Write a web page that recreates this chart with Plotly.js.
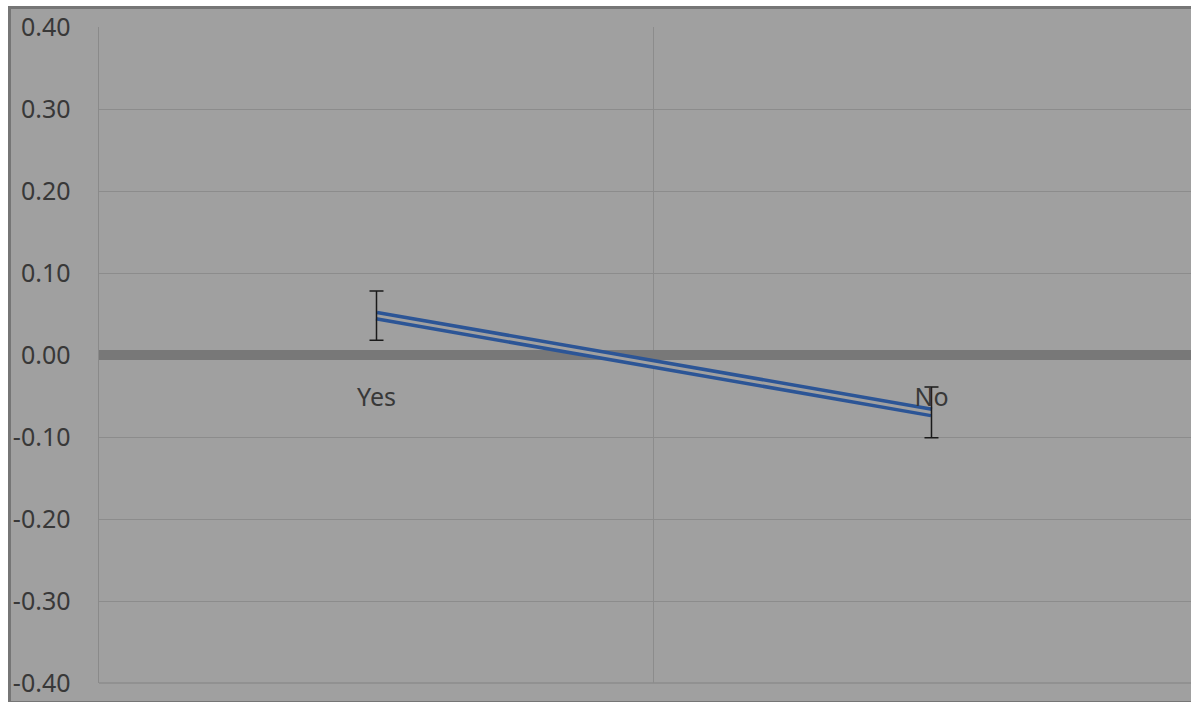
<!DOCTYPE html>
<html>
<head>
<meta charset="utf-8">
<script src="https://cdn.plot.ly/plotly-3.0.1.min.js"></script>
<style>
  html, body { margin: 0; padding: 0; background: #ffffff; overflow: hidden; width: 1191px; height: 702px; }
  #frame { position: absolute; left: 8px; top: 6px; width: 1200px; height: 692px;
           border-left: 3px solid #767676; border-top: 3px solid #767676; border-bottom: 1px solid #767676;
           background: #a0a0a0; }
  #chart { position: absolute; left: 0; top: 0; width: 1180px; height: 692px; }
</style>
</head>
<body>
<div id="frame"><div id="chart"></div></div>
<script>
// Data
const categories = ['Yes', 'No'];
const meanValues = [0.048, -0.07];
const errorValues = [0.03, 0.031];
const yTickValues = [-0.4, -0.3, -0.2, -0.1, 0.0, 0.1, 0.2, 0.3, 0.4];
const yTickLabels = ['-0.40', '-0.30', '-0.20', '-0.10', '0.00', '0.10', '0.20', '0.30', '0.40'];

const lineBlue = '#2c5596';
const bg = '#a0a0a0';

const traces = [
  { x: categories, y: meanValues, type: 'scatter', mode: 'lines',
    line: { color: lineBlue, width: 10 }, hoverinfo: 'skip', showlegend: false },
  { x: categories, y: meanValues, type: 'scatter', mode: 'lines',
    line: { color: bg, width: 3 }, hoverinfo: 'skip', showlegend: false },
  { x: categories, y: meanValues, type: 'scatter', mode: 'markers',
    marker: { size: 1, opacity: 0 },
    error_y: { type: 'data', array: errorValues, visible: true, color: '#1a1a1a', thickness: 1.5, width: 7 },
    hoverinfo: 'skip', showlegend: false }
];

const layout = {
  width: 1180, height: 692,
  margin: { l: 88, r: 0, t: 18, b: 18 },
  paper_bgcolor: bg, plot_bgcolor: bg,
  showlegend: false,
  font: { family: 'Noto Sans, sans-serif', size: 25, color: '#383838' },
  xaxis: {
    type: 'category',
    categoryorder: 'array', categoryarray: categories,
    range: [-0.5, 1.4676],
    anchor: 'free', position: 0.462,
    tickson: 'boundaries',
    showgrid: true, gridcolor: '#8c8c8c', gridwidth: 1,
    showline: false, zeroline: false,
    ticks: '',
    tickfont: { family: 'Noto Sans, sans-serif', size: 25, color: '#383838' }
  },
  yaxis: {
    range: [-0.4, 0.4],
    tickvals: yTickValues, ticktext: yTickLabels,
    showgrid: true, gridcolor: '#8c8c8c', gridwidth: 1,
    zeroline: true, zerolinecolor: '#787878', zerolinewidth: 10,
    showline: true, linecolor: '#8a8a8a', linewidth: 1.5,
    ticks: 'outside', ticklen: 22, tickcolor: 'rgba(0,0,0,0)',
    ticklabeloverflow: 'allow',
    tickfont: { family: 'Noto Sans, sans-serif', size: 25, color: '#383838' }
  },
  shapes: [
    { type: 'line', xref: 'paper', yref: 'paper', x0: 0, x1: 1, y0: 0, y1: 0,
      line: { color: '#8c8c8c', width: 1.5 }, layer: 'below' }
  ]
};

Plotly.newPlot('chart', traces, layout, { displayModeBar: false, staticPlot: true });
</script>
</body>
</html>
